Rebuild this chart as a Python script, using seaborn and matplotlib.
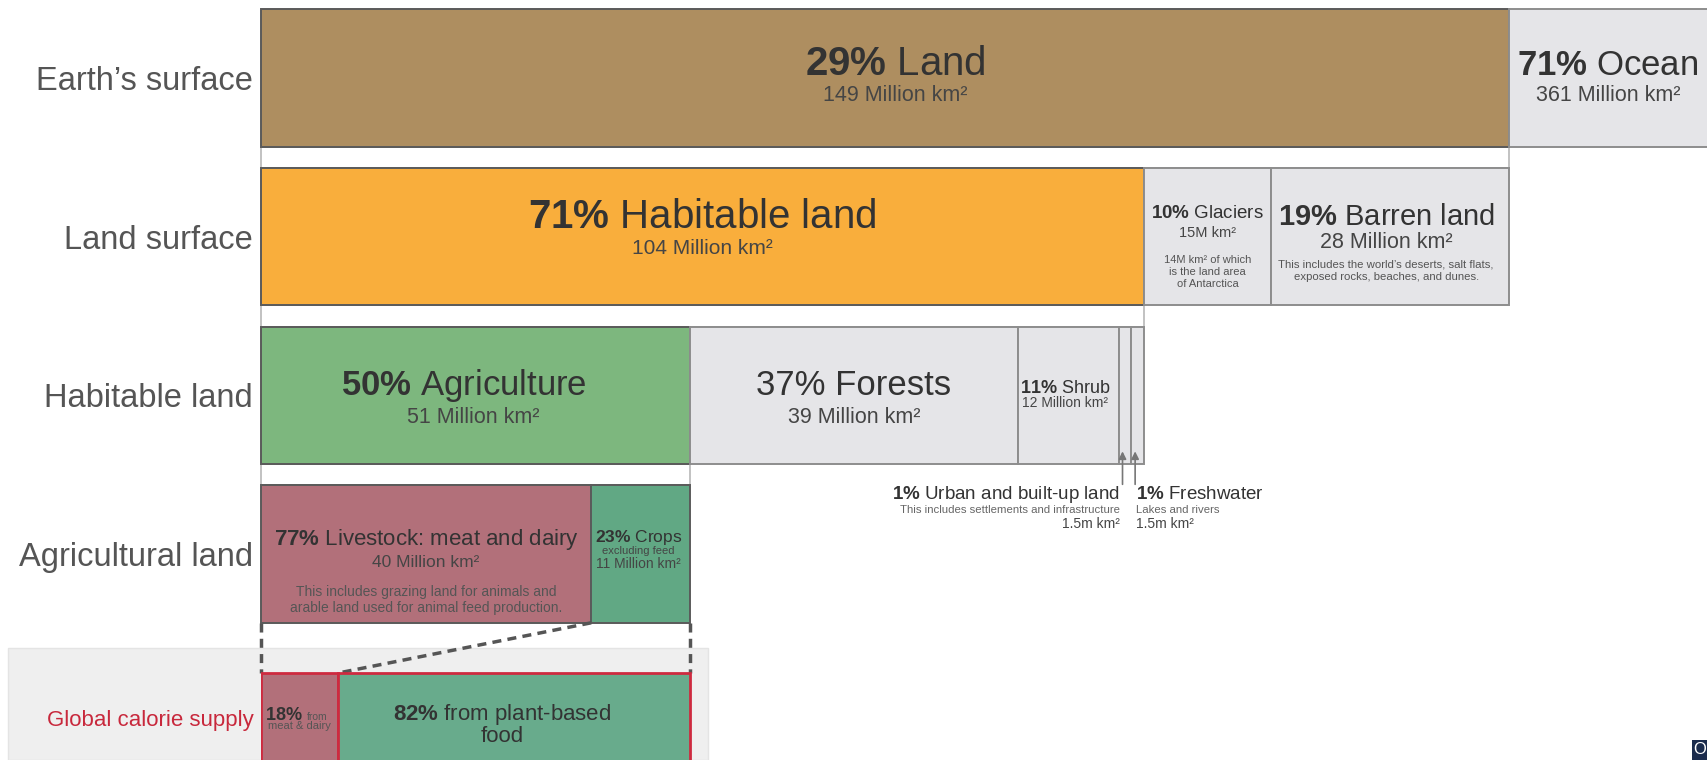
import matplotlib
matplotlib.use("Agg")
import numpy as np
import matplotlib.pyplot as plt
from matplotlib.patches import Rectangle
import seaborn as sns

# ===================== data =====================
ROWS = ["Earth’s surface", "Land surface", "Habitable land", "Agricultural land"]
CAL_ROW = "Global calorie supply"

earth_area = [149, 361]                  # Land, Ocean (Million km²)
land_area = [104, 15, 28]                # Habitable, Glaciers, Barren
habitable_area = [51, 39, 12, 1.5, 1.5]  # Agriculture, Forests, Shrub, Urban, Freshwater
agri_share = [77, 23]                    # Livestock, Crops (%)
calorie_share = [18, 82]                 # meat & dairy, plant-based (%)

# ===================== colours =====================
GREY_BOX = "#E5E5E8"
earth_colors = ["#AE8E60", GREY_BOX]
land_colors = ["#F9AE3C", GREY_BOX, GREY_BOX]
habitable_colors = ["#7DB77E", GREY_BOX, GREY_BOX, GREY_BOX, GREY_BOX]
agri_colors = ["#B2707A", "#61A884"]
calorie_colors = ["#B2707A", "#68AB8C"]
DARK_EDGE, GREY_EDGE, RED = "#5a5a5a", "#8d8d8d", "#CE2A3F"
TXT, SUB, NOTE = "#333333", "#454545", "#555555"

# ===================== layout (pixels of the 1707x760 output) =====================
FIG_W, FIG_H = 1707, 760
X0 = 261            # left edge of the bars
LAND_PX = 1248      # drawn width of the land bar
ROW_PX = 158.67     # distance between row centres
ROW0_PX = 78        # centre of first row
BAR_H = 0.867
PANEL_L, PANEL_T, PANEL_R = 8, 648, 708
CAL_PX = 741.8      # centre of calorie row

UX = LAND_PX / earth_area[0]


def dx(px):
    return px / UX


def dy(px):
    return px / ROW_PX


def split(values, total):
    v = np.asarray(values, float)
    w = v / v.sum() * total
    left = np.concatenate([[0], np.cumsum(w)[:-1]])
    return left, w


earth_left, earth_w = np.array([0, earth_area[0]], float), np.asarray(earth_area, float)
land_left, land_w = split(land_area, earth_area[0])
hab_left, hab_w = split(habitable_area, land_w[0])
agri_left, agri_w = split(agri_share, hab_w[0])
cal_left, cal_w = split(calorie_share, hab_w[0])

# ===================== style =====================
sns.set_theme(style="white")
plt.rcParams["font.family"] = ["Liberation Sans", "DejaVu Sans"]
plt.rcParams["mathtext.fontset"] = "custom"
plt.rcParams["mathtext.rm"] = "Liberation Sans"
plt.rcParams["mathtext.bf"] = "Liberation Sans:bold"


def draw_row(ax, row, order, lefts, widths, colors, edges, lw=1.4):
    for l, w, c, e in zip(lefts, widths, colors, edges):
        sns.barplot(x=[w], y=[row], order=order, orient="h", left=l, width=BAR_H,
                    color=c, saturation=1, edgecolor=e, linewidth=lw,
                    errorbar=None, ax=ax)


def put(ax, x, y, s, size, color=TXT, ha="center"):
    ax.text(x, y, s, ha=ha, va="baseline", fontsize=size, color=color)


def bold(p, rest):
    return rf"$\mathbf{{{p}\%}}$ {rest}"


fig = plt.figure(figsize=(FIG_W / 100, FIG_H / 100), dpi=100)
fig.patch.set_facecolor("white")

# grey panel behind the calorie row
fig.add_artist(Rectangle((PANEL_L / FIG_W, 0), (PANEL_R - PANEL_L) / FIG_W,
                         (FIG_H - PANEL_T) / FIG_H, transform=fig.transFigure,
                         facecolor="#EFEFEF", edgecolor="#E4E4E4", lw=1, zorder=-1))

ax = fig.add_axes([X0 / FIG_W, 0, 1 - X0 / FIG_W, 1])
ax.set_facecolor("none")

draw_row(ax, ROWS[0], ROWS, earth_left, earth_w, earth_colors, [DARK_EDGE, GREY_EDGE])
draw_row(ax, ROWS[1], ROWS, land_left, land_w, land_colors, [DARK_EDGE, GREY_EDGE, GREY_EDGE])
draw_row(ax, ROWS[2], ROWS, hab_left, hab_w, habitable_colors, [DARK_EDGE] + [GREY_EDGE] * 4)
draw_row(ax, ROWS[3], ROWS, agri_left, agri_w, agri_colors, [DARK_EDGE, DARK_EDGE])

# white connector bands between a parent segment and its breakdown
for i, total in enumerate([earth_w[0], land_w[0], hab_w[0]]):
    ax.add_patch(Rectangle((0, i + BAR_H / 2), total, 1 - BAR_H, facecolor="white",
                           edgecolor="#b8b8b8", lw=1.2, zorder=0.5, clip_on=False))

ax.set_xlim(0, dx(FIG_W - X0))
ax.set_ylim((FIG_H - ROW0_PX) / ROW_PX, -ROW0_PX / ROW_PX)
ax.set_yticks(range(len(ROWS)), ROWS)
ax.set_xticks([])
ax.set_xlabel("")
ax.set_ylabel("")
ax.tick_params(axis="y", length=0, pad=5.8, labelsize=23.5, labelcolor="#555555")
sns.despine(ax=ax, left=True, bottom=True)
for p in ax.patches:
    p.set_clip_on(False)

# --- Earth's surface
c = earth_left[0] + earth_w[0] / 2 + dx(10)
put(ax, c, dy(-3), bold(29, "Land"), 29)
put(ax, c, dy(23), "149 Million km²", 15.5, SUB)
xo = earth_left[1] + dx(99)
put(ax, xo, dy(-3), bold(71, "Ocean"), 25)
put(ax, xo, dy(23), "361 Million km²", 15.5, SUB)

# --- Land surface
c = land_left + land_w / 2
put(ax, c[0], 1 + dy(-9), bold(71, "Habitable land"), 29)
put(ax, c[0], 1 + dy(17), "104 Million km²", 15, SUB)
put(ax, c[1], 1 + dy(-19), bold(10, "Glaciers"), 13.5)
put(ax, c[1], 1 + dy(0), "15M km²", 10.5, SUB)
for i, line in enumerate(["14M km² of which", "is the land area", "of Antarctica"]):
    put(ax, c[1], 1 + dy(26 + 12 * i), line, 8, NOTE)
put(ax, c[2] - dx(4), 1 + dy(-12), bold(19, "Barren land"), 21)
put(ax, c[2] - dx(4), 1 + dy(11), "28 Million km²", 15.5, SUB)
for i, line in enumerate(["This includes the world’s deserts, salt flats,",
                          "exposed rocks, beaches, and dunes."]):
    put(ax, c[2] - dx(4), 1 + dy(31 + 12 * i), line, 8.2, NOTE)

# --- Habitable land
c = hab_left + hab_w / 2
put(ax, c[0] - dx(12), 2 + dy(0), bold(50, "Agriculture"), 25)
put(ax, c[0] - dx(2), 2 + dy(28), "51 Million km²", 15.5, SUB)
put(ax, c[1], 2 + dy(0), "37% Forests", 25)
put(ax, c[1], 2 + dy(28), "39 Million km²", 15.5, SUB)
put(ax, c[2] - dx(3), 2 + dy(-2), bold(11, "Shrub"), 13)
put(ax, c[2] - dx(3), 2 + dy(12), "12 Million km²", 10, SUB)
for i in (3, 4):
    ax.annotate("", xy=(c[i] - dx(2.5), 2 + dy(56)), xytext=(c[i] - dx(2.5), 2 + dy(89)),
                arrowprops=dict(arrowstyle="-|>", color="#777777", lw=1.2,
                                mutation_scale=11, shrinkA=0, shrinkB=0))
xu = c[3] - dx(5)
put(ax, xu, 2 + dy(104), bold(1, "Urban and built-up land"), 13.5, ha="right")
put(ax, xu, 2 + dy(118), "This includes settlements and infrastructure", 8.2, "#666666", ha="right")
put(ax, xu, 2 + dy(133), "1.5m km²", 10, SUB, ha="right")
xf = hab_left[4] + dx(4.4)
put(ax, xf, 2 + dy(104), bold(1, "Freshwater"), 13.5, ha="left")
put(ax, xf, 2 + dy(118), "Lakes and rivers", 8.2, "#666666", ha="left")
put(ax, xf, 2 + dy(133), "1.5m km²", 10, SUB, ha="left")

# --- Agricultural land
c = agri_left + agri_w / 2
put(ax, c[0], 3 + dy(-9), bold(77, "Livestock: meat and dairy"), 16)
put(ax, c[0], 3 + dy(13), "40 Million km²", 12.5, SUB)
for i, line in enumerate(["This includes grazing land for animals and",
                          "arable land used for animal feed production."]):
    put(ax, c[0], 3 + dy(42 + 16 * i), line, 10, NOTE)
put(ax, c[1] - dx(2), 3 + dy(-12), bold(23, "Crops"), 12.5)
put(ax, c[1] - dx(2), 3 + dy(0), "excluding feed", 8, SUB)
put(ax, c[1] - dx(2), 3 + dy(14), "11 Million km²", 10, SUB)

# dashed link from agricultural land to the calorie row
y_top = 3 + BAR_H / 2
y_cal = (CAL_PX - BAR_H / 2 * ROW_PX - ROW0_PX) / ROW_PX
dash = dict(color="#555555", lw=2.5, ls=(0, (2.6, 1.8)), clip_on=False, zorder=3)
ax.plot([0, 0], [y_top, y_cal], **dash)
ax.plot([agri_w.sum(), agri_w.sum()], [y_top, y_cal], **dash)
ax.plot([agri_left[1], cal_left[1]], [y_top, y_cal], **dash)

# ===================== calorie row =====================
ax2 = fig.add_axes([X0 / FIG_W, 0, 1 - X0 / FIG_W, (FIG_H - PANEL_T) / FIG_H])
ax2.set_facecolor("none")
draw_row(ax2, CAL_ROW, [CAL_ROW], cal_left, cal_w, calorie_colors, [RED, RED], lw=2)
ax2.set_xlim(ax.get_xlim())
ax2.set_ylim(dy(FIG_H - CAL_PX), dy(PANEL_T - CAL_PX))
ax2.set_yticks([dy(718 - CAL_PX)], [CAL_ROW])
ax2.set_xticks([])
ax2.set_xlabel("")
ax2.set_ylabel("")
ax2.tick_params(axis="y", length=0, pad=5.3, labelsize=16, labelcolor="#C8283C")
sns.despine(ax=ax2, left=True, bottom=True)

c = cal_left + cal_w / 2
put(ax2, cal_left[0] + dx(4), dy(-22), r"$\mathbf{18\%}$", 13, ha="left")
put(ax2, cal_left[0] + dx(46), dy(-22), "from", 7.5, NOTE, ha="left")
put(ax2, c[0], dy(-13), "meat & dairy", 8, NOTE)
put(ax2, c[1] - dx(12), dy(-22), bold(82, "from plant-based"), 16)
put(ax2, c[1] - dx(12), dy(0), "food", 16)

# corner logo stub
fig.add_artist(Rectangle((1692 / FIG_W, 0), 15 / FIG_W, 20 / FIG_H,
                         transform=fig.transFigure, facecolor="#1a2b4c", lw=0))
fig.text(1700 / FIG_W, 3 / FIG_H, "O", color="white", fontsize=12, ha="center", va="bottom")

fig.savefig("out.png", dpi=100)
